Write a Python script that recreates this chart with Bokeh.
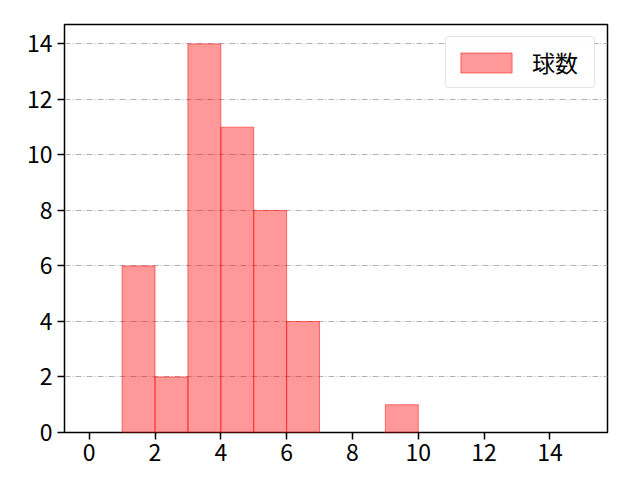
from bokeh.plotting import figure
from bokeh.models import Range1d, FixedTicker, Legend, LegendItem
from bokeh.embed import file_html
from bokeh.resources import INLINE

bin_left = [0, 1, 2, 3, 4, 5, 6, 7, 8, 9, 10, 11, 12, 13, 14]
bin_right = [1, 2, 3, 4, 5, 6, 7, 8, 9, 10, 11, 12, 13, 14, 15]
counts = [0, 6, 2, 14, 11, 8, 4, 0, 0, 1, 0, 0, 0, 0, 0]
series_label = "球数"
x_ticks = [0, 2, 4, 6, 8, 10, 12, 14]
y_ticks = [0, 2, 4, 6, 8, 10, 12, 14]

FONT = "Noto Sans CJK JP"

p = figure(width=632, height=472, output_backend="svg", toolbar_location=None,
           x_range=Range1d(-0.75, 15.75), y_range=Range1d(0, 14.7),
           min_border_left=64, min_border_right=25, min_border_top=24, min_border_bottom=40)

lefts = [l for l, c in zip(bin_left, counts) if c > 0]
rights = [r for r, c in zip(bin_right, counts) if c > 0]
tops = [c for c in counts if c > 0]
r = p.quad(left=lefts, right=rights, bottom=0, top=tops,
           fill_color="#ff0000", fill_alpha=0.4,
           line_color="#ff0000", line_alpha=0.5, line_width=1)

for ax in (p.xaxis[0], p.yaxis[0]):
    ax.major_label_text_font = FONT
    ax.major_label_text_font_size = "23px"
    ax.major_label_text_color = "#000000"
    ax.axis_line_color = None
    ax.major_tick_in = 0
    ax.major_tick_out = 7
    ax.major_tick_line_width = 1.5
    ax.minor_tick_line_color = None
p.xaxis[0].ticker = FixedTicker(ticks=x_ticks)
p.yaxis[0].ticker = FixedTicker(ticks=y_ticks)
p.xaxis[0].major_label_standoff = 4
p.yaxis[0].major_label_standoff = 5

p.xgrid.grid_line_color = None
p.ygrid.grid_line_color = "#b0b0b0"
p.ygrid.grid_line_dash = "6 2 1 2"
p.ygrid.grid_line_width = 1
p.ygrid.level = "underlay"

p.outline_line_color = "#000000"
p.outline_line_width = 1.5
p.background_fill_color = "white"

legend = Legend(items=[LegendItem(label=series_label, renderers=[r])],
                location="top_right")
legend.label_text_font = FONT
legend.label_text_font_size = "23px"
legend.label_text_color = "#000000"
legend.border_line_color = "#cccccc"
legend.border_line_width = 1
legend.border_radius = 4
legend.glyph_width = 64
legend.glyph_height = 25
legend.label_width = 54
legend.label_height = 30
legend.label_standoff = 14
legend.padding = 8
legend.margin = 12
legend.spacing = 0
p.add_layout(legend)

open("out.html", "w").write(file_html(p, INLINE))
